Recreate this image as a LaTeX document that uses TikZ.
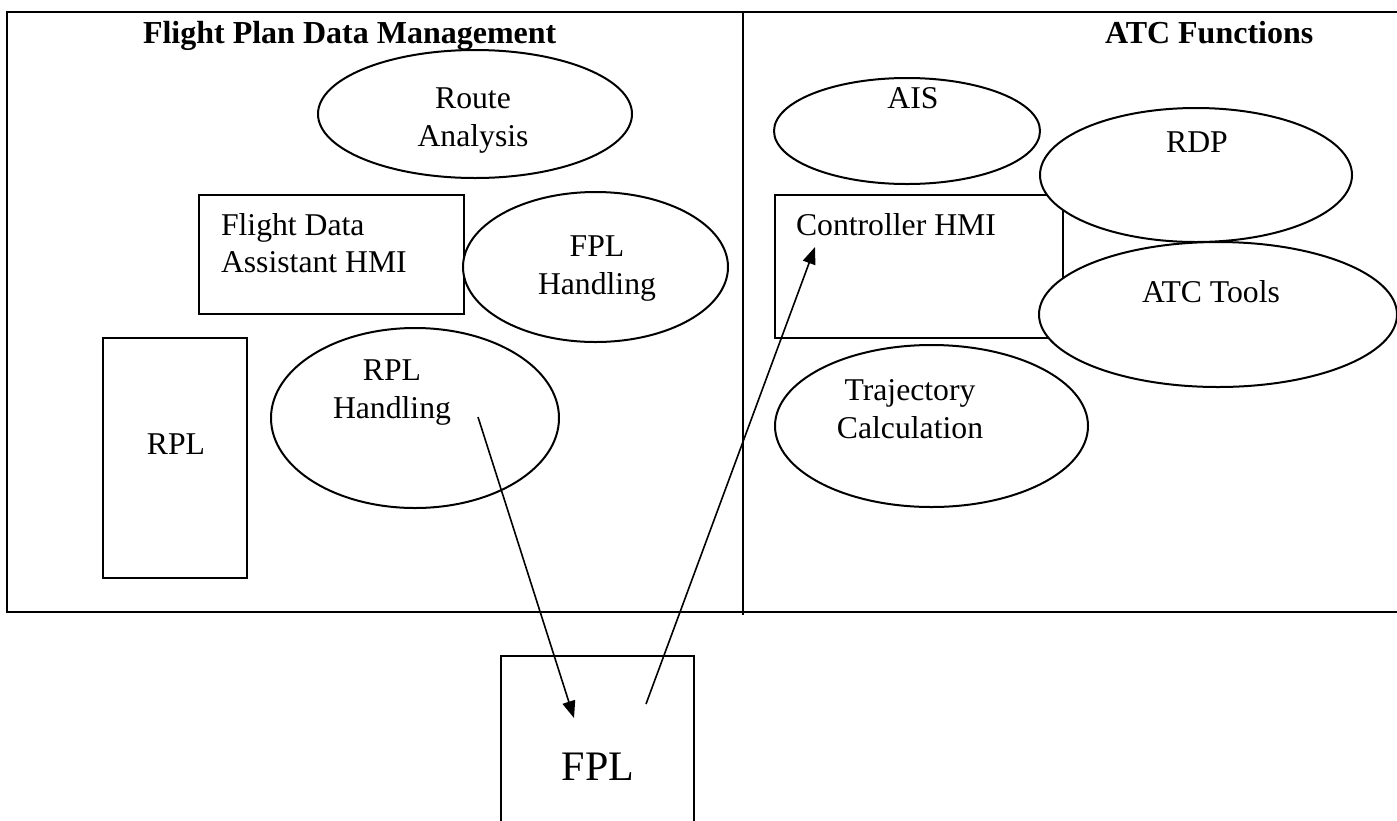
\documentclass[tikz,border=0pt]{standalone}
\usepackage{fontspec}
\setmainfont{Liberation Serif}
\usetikzlibrary{shapes.geometric,arrows.meta}
\begin{document}
\begin{tikzpicture}[x=1pt,y=-1pt,
  every node/.style={inner sep=0pt, outer sep=0pt},
  frame/.style={line width=2pt},
  boxnode/.style={draw, line width=2pt, rectangle, fill=white},
  ell/.style={draw, line width=2pt, ellipse, fill=white},
  txt/.style={font=\fontsize{31.7}{36}\selectfont, anchor=base},
  txtw/.style={font=\fontsize{31.7}{36}\selectfont, anchor=base west},
  ttl/.style={font=\fontsize{32}{36}\selectfont\bfseries, anchor=base west},
  flow/.style={line width=1.6pt, -{Triangle[length=17pt,width=13pt]}}]
\clip (0,0) rectangle (1397,820);
\fill[white] (0,0) rectangle (1397,820);
% frame
\draw[frame] (1410,12) -- (7,12) -- (7,612) -- (1410,612);
\draw[frame] (743,12) -- (743,615);
% titles
\node[ttl] (t1) at (143,43) {Flight Plan Data Management};
\node[ttl] (t2) at (1105,43) {ATC Functions};
% boxes
\node[boxnode, minimum width=265pt, minimum height=119pt] (fda) at (331.5,254.5) {};
\node[boxnode, minimum width=144pt, minimum height=240pt] (rpl) at (175,458) {};
\node[boxnode, minimum width=288pt, minimum height=143pt] (chmi) at (919,266.5) {};
\node[boxnode, minimum width=193pt, minimum height=174pt] (fpl) at (597.5,743) {};
% ellipses
\node[ell, minimum width=314pt, minimum height=128pt] (route) at (475,114) {};
\node[ell, minimum width=265pt, minimum height=150pt] (fplh) at (595.5,267) {};
\node[ell, minimum width=288pt, minimum height=180pt] (rplh) at (415,418) {};
\node[ell, minimum width=266pt, minimum height=106pt] (ais) at (907,131) {};
\node[ell, minimum width=312pt, minimum height=134pt] (rdp) at (1196,175) {};
\node[ell, minimum width=358pt, minimum height=145pt] (atct) at (1218,314.5) {};
\node[ell, minimum width=313pt, minimum height=162pt] (traj) at (931.5,426) {};
% texts
\node[txtw] (fdaT1) at (221,235) {Flight Data};
\node[txtw] (fdaT2) at (221,272) {Assistant HMI};
\node[txt] (rplT) at (176,454) {RPL};
\node[txtw] (chmiT) at (796,235) {Controller HMI};
\node[font=\fontsize{42}{48}\selectfont, anchor=base] (fplT) at (598,780) {FPL};
\node[txt] (routeT1) at (473,108) {Route};
\node[txt] (routeT2) at (473,146) {Analysis};
\node[txt] (fplhT1) at (597,256) {FPL};
\node[txt] (fplhT2) at (597,294) {Handling};
\node[txt] (rplhT1) at (392,380) {RPL};
\node[txt] (rplhT2) at (392,418) {Handling};
\node[txt] (aisT) at (913,108) {AIS};
\node[txt] (rdpT) at (1197,152) {RDP};
\node[txt] (atctT) at (1211,302) {ATC Tools};
\node[txt] (trajT1) at (910,400) {Trajectory};
\node[txt] (trajT2) at (910,438) {Calculation};
% arrows
\coordinate (a1s) at (478,417);
\coordinate (a1e) at (574,718);
\coordinate (a2s) at (646,704);
\coordinate (a2e) at (815,247);
\draw[flow] (a1s) -- (a1e);
\draw[flow] (a2s) -- (a2e);
\end{tikzpicture}
\end{document}
